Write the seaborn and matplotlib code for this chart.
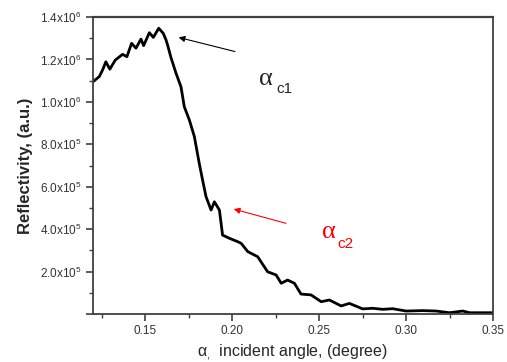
import numpy as np
import pandas as pd
import matplotlib
matplotlib.use("Agg")
import matplotlib.pyplot as plt
from matplotlib.ticker import MultipleLocator, FuncFormatter
import seaborn as sns

# ---------------------------------------------------------------------------
# DATA
# ---------------------------------------------------------------------------
angle = [0.120, 0.1236, 0.1255, 0.1274, 0.1297, 0.1328, 0.1370, 0.1395,
         0.1422, 0.1447, 0.1476, 0.1491, 0.1524, 0.1547, 0.1578, 0.1604,
         0.1620, 0.1629, 0.1648, 0.1677, 0.1706, 0.1725, 0.1754, 0.1783,
         0.1811, 0.1830, 0.1850, 0.1879, 0.1898, 0.1927, 0.1945, 0.1984,
         0.2032, 0.2052, 0.2090, 0.2147, 0.2204, 0.2253, 0.2282, 0.2319,
         0.2358, 0.2396, 0.2454, 0.2512, 0.2559, 0.2627, 0.2674, 0.2751,
         0.2808, 0.2866, 0.2923, 0.3000, 0.3096, 0.3173, 0.3250, 0.3326,
         0.3365, 0.3480, 0.3500]
reflectivity = [1.095e6, 1.119e6, 1.150e6, 1.189e6, 1.154e6, 1.197e6, 1.224e6, 1.213e6,
                1.276e6, 1.253e6, 1.296e6, 1.265e6, 1.326e6, 1.304e6, 1.347e6, 1.323e6,
                1.292e6, 1.268e6, 1.210e6, 1.136e6, 1.071e6, 0.977e6, 0.915e6, 0.836e6,
                0.710e6, 0.632e6, 0.553e6, 0.490e6, 0.529e6, 0.490e6, 0.372e6, 0.357e6,
                0.341e6, 0.333e6, 0.294e6, 0.270e6, 0.199e6, 0.184e6, 0.145e6, 0.160e6,
                0.145e6, 0.094e6, 0.090e6, 0.058e6, 0.066e6, 0.038e6, 0.050e6, 0.024e6,
                0.027e6, 0.022e6, 0.025e6, 0.014e6, 0.016e6, 0.014e6, 0.006e6, 0.014e6,
                0.006e6, 0.006e6, 0.006e6]

# annotation anchors: (arrow head, arrow tail) in data units
c1_head, c1_tail = (0.1677, 1.307e6), (0.2032, 1.234e6)
c2_head, c2_tail = (0.1994, 0.498e6), (0.2325, 0.424e6)

df = pd.DataFrame({"angle": angle, "R": reflectivity})

# ---------------------------------------------------------------------------
# STYLE
# ---------------------------------------------------------------------------
sns.set_style("ticks")
plt.rcParams["font.family"] = ["Liberation Sans", "DejaVu Sans"]
plt.rcParams["mathtext.default"] = "regular"

fig = plt.figure(figsize=(5.07, 3.62), dpi=100)
ax = fig.add_axes([0.1834, 0.1326, 0.789, 0.8204])

sns.lineplot(data=df, x="angle", y="R", ax=ax, color="black", lw=2.0)

ax.set_xlim(0.12, 0.35)
ax.set_ylim(0, 1.4e6)

ax.xaxis.set_major_locator(MultipleLocator(0.05))
ax.xaxis.set_minor_locator(MultipleLocator(0.025))
ax.yaxis.set_major_locator(MultipleLocator(2e5))
ax.yaxis.set_minor_locator(MultipleLocator(1e5))
ax.xaxis.set_major_formatter(FuncFormatter(lambda v, p: f"{v:.2f}"))


def sci(v, p):
    if v <= 0:
        return ""
    e = int(np.floor(np.log10(v) + 1e-9))
    return f"{v / 10**e:.1f}x10$^{{{e}}}$"


ax.yaxis.set_major_formatter(FuncFormatter(sci))

for s in ax.spines.values():
    s.set_visible(True)
    s.set_color("#404040")
    s.set_linewidth(1.3)
ax.spines["top"].set_linewidth(1.6)

ax.tick_params(which="major", length=5, width=1.2, color="#404040",
               labelsize=8.5, labelcolor="#333333", pad=3)
ax.tick_params(which="minor", length=3, width=1.0, color="#404040")

ax.set_xlabel(r"$\alpha_{,}$  incident angle, (degree)", fontsize=11.5, labelpad=4)
ax.set_ylabel("Reflectivity, (a.u.)", fontsize=12, fontweight="bold", labelpad=5)

# critical-angle arrows and labels
ax.annotate("", xy=c1_head, xytext=c1_tail,
            arrowprops=dict(arrowstyle="-|>", color="black", lw=0.8, mutation_scale=9))
ax.annotate("", xy=c2_head, xytext=c2_tail,
            arrowprops=dict(arrowstyle="-|>", color="red", lw=0.8, mutation_scale=9))

ax.text(0.2156, 1.080e6, "α", fontsize=19, family="Liberation Serif", va="baseline")
ax.text(0.2254, 1.042e6, "c1", fontsize=11, family="Liberation Sans", va="baseline")
ax.text(0.2517, 0.358e6, "α", fontsize=19, family="Liberation Serif", va="baseline", color="red")
ax.text(0.2605, 0.311e6, "c2", fontsize=11, family="Liberation Sans", va="baseline", color="red")

fig.savefig("out.png", dpi=100)
